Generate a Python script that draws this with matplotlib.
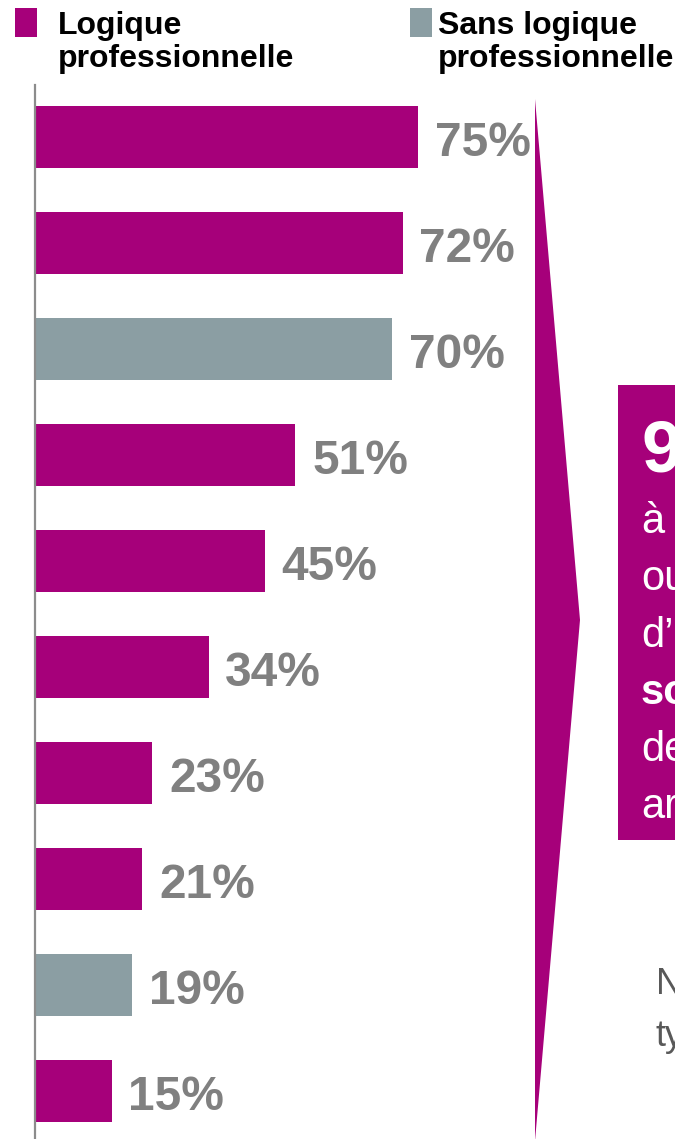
import matplotlib
matplotlib.use("Agg")
import matplotlib.pyplot as plt
from matplotlib.patches import Rectangle, Polygon

plt.rcParams['font.family'] = ['Liberation Sans', 'DejaVu Sans']

# ---- data ----
values = [75, 72, 70, 51, 45, 34, 23, 21, 19, 15]
groups = ["Logique professionnelle", "Logique professionnelle", "Sans logique professionnelle",
          "Logique professionnelle", "Logique professionnelle", "Logique professionnelle",
          "Logique professionnelle", "Logique professionnelle", "Sans logique professionnelle",
          "Logique professionnelle"]
legend_labels = ["Logique\nprofessionnelle", "Sans logique\nprofessionnelle"]
box_lines = ["à", "ou", "d’", "so", "de", "ar"]
box_bold = [False, False, False, True, False, False]
note_lines = ["N", "ty"]

MAGENTA = "#A6007A"
GREY_BAR = "#8B9EA3"
LABEL_GREY = "#808080"
colors = {"Logique professionnelle": MAGENTA, "Sans logique professionnelle": GREY_BAR}

W, H = 675, 1139
fig = plt.figure(figsize=(W / 100, H / 100), dpi=100)

# overlay axes in pixel coordinates for decorations
ov = fig.add_axes([0, 0, 1, 1])
ov.set_xlim(0, W)
ov.set_ylim(H, 0)
ov.axis("off")

# ---- bar axes ----
px_per_pct = 383 / 75.0
ax_left = 35
ax_width_px = 100 * px_per_pct
top_px, bot_px = 85, H
ax = fig.add_axes([ax_left / W, 0, ax_width_px / W, (bot_px - top_px) / H])
ax.set_xlim(0, 100)
y0 = (top_px - 137) / 106.0
y1 = (bot_px - 137) / 106.0
ax.set_ylim(y1, y0)
ax.patch.set_alpha(0)
for s in ["top", "right", "bottom"]:
    ax.spines[s].set_visible(False)
ax.spines["left"].set_color("#8c8c8c")
ax.spines["left"].set_linewidth(1.6)
ax.set_xticks([])
ax.set_yticks([])

ypos = list(range(len(values)))
ax.barh(ypos, values, height=0.585, color=[colors[g] for g in groups], zorder=2)
for y, v in zip(ypos, values):
    ax.annotate(f"{v}%", xy=(v, y), xytext=(12, -13.5), textcoords="offset points",
                ha="left", va="baseline", fontsize=34.5, fontweight="bold", color=LABEL_GREY)

# ---- legend ----
leg_sq_x = [15, 410]
leg_txt_x = [58, 438]
leg_cols = [MAGENTA, GREY_BAR]
for sx, tx, lab, c in zip(leg_sq_x, leg_txt_x, legend_labels, leg_cols):
    ov.add_patch(Rectangle((sx, 8), 22, 29, color=c, lw=0, zorder=3))
    l1, l2 = lab.split("\n")
    ov.text(tx, 34, l1, fontsize=23, fontweight="bold",
            color="black", ha="left", va="baseline")
    ov.text(tx, 67, l2, fontsize=23, fontweight="bold",
            color="black", ha="left", va="baseline")

# ---- chevron arrow ----
ov.add_patch(Polygon([(535, 99), (580, 620), (535, H + 2)], closed=True,
                     color=MAGENTA, lw=0, zorder=2))

# ---- highlight box ----
ov.add_patch(Rectangle((618, 385), 80, 455, color=MAGENTA, lw=0, zorder=2))
ov.text(641, 471, "9", fontsize=52, fontweight="bold", color="white",
        ha="left", va="baseline", zorder=3)
for i, (t, b) in enumerate(zip(box_lines, box_bold)):
    ov.text(641, 533 + 57 * i, t, fontsize=30, fontweight="bold" if b else "normal",
            color="white", ha="left", va="baseline", zorder=3)

# ---- note text ----
for i, t in enumerate(note_lines):
    ov.text(656, 994 + 52 * i, t, fontsize=26, color="#595959",
            ha="left", va="baseline", zorder=3)

fig.savefig("out.png", dpi=100)
